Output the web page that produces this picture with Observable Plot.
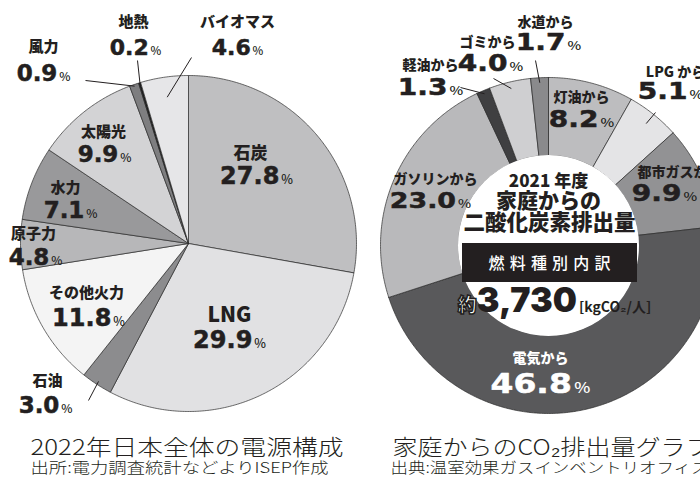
<!DOCTYPE html>
<html><head><meta charset="utf-8">
<script src="https://cdn.jsdelivr.net/npm/d3@7"></script>
<script src="https://cdn.jsdelivr.net/npm/@observablehq/plot@0.6"></script>
<style>
html,body{margin:0;padding:0;background:#fff;overflow:hidden}
svg{display:block}
</style>
</head><body><div id="chart"></div>
<script>
// ---------- DATA ----------
const powerSources = ["石炭","LNG","石油","その他火力","原子力","水力","太陽光","風力","地熱","バイオマス"];
const powerShares  = [27.8, 29.9, 3.0, 11.8, 4.8, 7.1, 9.9, 0.9, 0.2, 4.6];
const homeSources  = ["灯油から","LPG から","都市ガスから","電気から","ガソリンから","軽油から","ゴミから","水道から"];
const homeShares   = [8.2, 5.1, 9.9, 46.8, 23.0, 1.3, 4.0, 1.7];
const homeTotal    = 3730;
const homeUnit     = "[kgCO₂/人]";
const homeCenterLines = ["2021 年度","家庭からの","二酸化炭素排出量","燃料種別内訳"];
const titles    = ["2022年日本全体の電源構成","家庭からのCO₂排出量グラフ"];
const subtitles = ["出所:電力調査統計などよりISEP作成","出典:温室効果ガスインベントリオフィス"];

// ---------- STYLE ----------
const powerColors = ["#bfbfc1","#e1e1e3","#8c8c8e","#f4f4f4","#b7b7b9","#99999b","#d3d3d5","#7e7e80","#1e1e1e","#e6e6e8"];
const homeColors  = ["#bdbdbf","#e4e4e6","#929294","#59595b","#b9b9bb","#3f3f41","#cfcfd1","#8a8a8c"];
const ink = "#231f20";
const JP = "'Noto Sans CJK JP','Noto Sans CJK SC',sans-serif";
const NUM = "'DejaVu Sans','Noto Sans CJK JP',sans-serif";
const BIG = "Inter,'Noto Sans CJK JP',sans-serif";

// ---------- LAYOUT ----------
const W = 700, H = 483;
const leftPie  = {cx:188, cy:243, r0:0,  r1:168, stretch:1.0};
const rightPie = {cx:548, cy:245, r0:90, r1:168, stretch:1.22};
// label offsets from pie centre: [catDx, catDy, numDx, numDy, catSize, numSize]
const powerLabelLayout = [
  [62,-90, 68,-67, 17,24],
  [41,72, 41,97, 21,24],
  [-141,138, -143,162, 15,23],
  [-102,50, -100,75, 15,24],
  [-155,-9, -153,14, 15,23],
  [-123,-55, -118,-33, 15,23],
  [-85,-111, -84,-89, 15,23],
  [-145,-196, -145,-170, 15,23],
  [-55,-221, -53,-196, 15,22],
  [49,-221, 49,-196, 15,22]
];
const homeLabelLayout = [
  [33,-148, 33,-126, 14,23],
  [127,-173, 122,-154, 14,23],
  [131,-73, 116,-52, 14,23],
  [-8,113, -8,139, 14,27],
  [-113,-66, -118,-45, 14,22],
  [-118,-180, -118,-158, 14,23],
  [-61,-203, -58,-182, 14,23],
  [-3,-223, 0,-203, 14,23]
];
// leaders: [slice index, inner radius fraction, outer dx, outer dy]
const powerLeaders = [[7,0.99,-103,-163],[8,0.99,-51,-183],[9,0.88,3,-186],[2,0.98,-100,157]];
const homeLeaders  = [[7,0.97,-13,-185],[6,0.96,-55,-167],[5,0.98,-88,-158],[1,0.93,107,-133]];

// ---------- GEOMETRY ----------
const polar = (g, t, r) => [g.cx + r*Math.sin(t), g.cy - r*Math.cos(t)];
function buildSlices(shares, colors, g, key) {
  const arcs = d3.pie().sort(null).value(d => d)(shares);
  const pts = [];
  arcs.forEach((a, i) => {
    const n = Math.max(2, Math.ceil((a.endAngle - a.startAngle) / 0.01));
    const ts = d3.range(n + 1).map(k => a.startAngle + (a.endAngle - a.startAngle) * k / n);
    let ring;
    if (g.r0 === 0) ring = [[g.cx, g.cy], ...ts.map(t => polar(g, t, g.r1)), [g.cx, g.cy]];
    else ring = [...ts.map(t => polar(g, t, g.r1)), ...ts.slice().reverse().map(t => polar(g, t, g.r0)), polar(g, ts[0], g.r1)];
    ring.forEach(([x, y]) => pts.push({id: key + i, x, y, color: colors[i]}));
  });
  return {arcs, pts};
}
const L = buildSlices(powerShares, powerColors, leftPie, "p");
const R = buildSlices(homeShares, homeColors, rightPie, "h");

function labels(names, shares, layout, g, fills) {
  return names.map((name, i) => {
    const [cdx, cdy, ndx, ndy, cs, ns] = layout[i];
    return {name, value: shares[i].toFixed(1) + "%", cx: g.cx + cdx, cy: g.cy + cdy,
            nx: g.cx + ndx, ny: g.cy + ndy, cs, ns, fill: fills ? fills[i] : ink};
  });
}
const powerLabels = labels(powerSources, powerShares, powerLabelLayout, leftPie);
const homeLabels = labels(homeSources, homeShares, homeLabelLayout, rightPie,
  homeSources.map((d, i) => i === 3 ? "#ffffff" : ink));

function leaders(list, arcs, g) {
  return list.map(([i, f, dx, dy]) => {
    const a = arcs[i], mid = (a.startAngle + a.endAngle) / 2;
    const [x1, y1] = polar(g, mid, g.r1 * f);
    return {x1, y1, x2: g.cx + dx, y2: g.cy + dy};
  });
}
const allLeaders = [...leaders(powerLeaders, L.arcs, leftPie), ...leaders(homeLeaders, R.arcs, rightPie)];
const allLabels = [...powerLabels, ...homeLabels];

const rc = rightPie;
const centerText = [
  {t: homeCenterLines[0], x: rc.cx, y: rc.cy-64, s: 17},
  {t: homeCenterLines[1], x: rc.cx, y: rc.cy-44, s: 21},
  {t: homeCenterLines[2], x: rc.cx+1, y: rc.cy-22, s: 21.5}
];
const totalLine = [{t: "約" + d3.format(",")(homeTotal) + homeUnit, x: rc.cx+12, y: rc.cy+56}];
const titleRows = [
  {t: titles[0], x: 30, y: 447, s: 22}, {t: titles[1], x: 392, y: 447, s: 22}
];
const subRows = [
  {t: subtitles[0], x: 30, y: 468, s: 15}, {t: subtitles[1], x: 390, y: 468, s: 15}
];

const plot = Plot.plot({
  width: W, height: H, margin: 0,
  x: {domain: [0, W], range: [0, W], axis: null},
  y: {domain: [0, H], range: [0, H], axis: null},
  color: {type: "identity"},
  style: {background: "#fff", color: ink, overflow: "visible"},
  marks: [
    Plot.line(L.pts, {x: "x", y: "y", z: "id", fill: "color", stroke: "#2b2b2b", strokeWidth: 0.7, curve: "linear"}),
    Plot.line(R.pts, {x: "x", y: "y", z: "id", fill: "color", stroke: "#2b2b2b", strokeWidth: 0.7, curve: "linear"}),
    Plot.dot([rc], {x: "cx", y: "cy", r: rc.r0 + 0.5, fill: "#fff", stroke: "none"}),
    Plot.rect([rc], {x1: d => d.cx - 86, x2: d => d.cx + 89, y1: d => d.cy - 2, y2: d => d.cy + 37, fill: ink}),
    Plot.text([homeCenterLines[3]], {x: rc.cx + 1, y: rc.cy + 18, text: d => d, fill: "#fff", fontSize: 16, fontWeight: 500, fontFamily: JP, lineAnchor: "middle"}),
    Plot.link(allLeaders, {x1: "x1", y1: "y1", x2: "x2", y2: "y2", stroke: ink, strokeWidth: 1}),
    Plot.text(allLabels, {x: "cx", y: "cy", text: "name", fontSize: "cs", fill: "fill", fontWeight: 900, fontFamily: JP, lineAnchor: "middle"}),
    Plot.text(powerLabels, {x: "nx", y: "ny", text: "value", fontSize: "ns", fill: "fill", stroke: "fill", strokeWidth: 0.5, fontWeight: 700, fontFamily: NUM, lineAnchor: "middle"}),
    Plot.text(homeLabels, {x: "nx", y: "ny", text: "value", fontSize: "ns", fill: "fill", stroke: "fill", strokeWidth: 0.5, fontWeight: 700, fontFamily: NUM, lineAnchor: "middle", title: () => "stretch"}),
    Plot.text(centerText, {x: "x", y: "y", text: "t", fontSize: "s", fill: ink, fontWeight: 900, fontFamily: JP, lineAnchor: "middle"}),
    Plot.text(totalLine, {x: "x", y: "y", text: "t", fontSize: 34, fill: ink, fontWeight: 900, fontFamily: BIG, lineAnchor: "middle"}),
    Plot.text(titleRows, {x: "x", y: "y", text: "t", fontSize: "s", fill: ink, fontWeight: 300, fontFamily: JP, textAnchor: "start", lineAnchor: "middle"}),
    Plot.text(subRows, {x: "x", y: "y", text: "t", fontSize: "s", fill: ink, fontWeight: 300, fontFamily: JP, textAnchor: "start", lineAnchor: "middle"})
  ]
});
document.getElementById("chart").appendChild(plot);

// ---------- typographic touches ----------
function scaleX(node, s) {
  const tr = node.getAttribute("transform");
  if (tr) node.setAttribute("transform", tr + ` scale(${s},1)`);
  else {
    const x = +node.getAttribute("x") || 0, y = +node.getAttribute("y") || 0;
    node.setAttribute("x", 0); node.setAttribute("y", 0);
    node.setAttribute("transform", `translate(${x},${y}) scale(${s},1)`);
  }
}
const svg = d3.select(plot);
svg.selectAll("text").each(function() {
  const el = d3.select(this);
  const titleEl = this.querySelector("title");
  const stretch = titleEl ? rightPie.stretch : leftPie.stretch;
  if (titleEl) titleEl.remove();
  const t = this.textContent;
  let m = /^([\d.,]+)%$/.exec(t);
  if (m) {
    el.text(null);
    el.append("tspan").text(m[1]);
    el.append("tspan").attr("font-size", "0.52em").attr("font-weight", 500).attr("stroke", "none")
      .attr("font-family", JP).attr("dx", "0.15em").text("%");
    if (stretch !== 1) scaleX(this, stretch);
    return;
  }
  if (t === homeCenterLines[3]) {
    el.attr("letter-spacing", "5.2px").attr("dx", 2.6);
    return;
  }
  m = /^約([\d,]+)(\[.*\])$/.exec(t);
  if (m) {
    el.text(null);
    el.append("tspan").attr("font-size", "19").attr("font-weight", 900).attr("font-family", JP)
      .attr("fill", "#fff").attr("stroke", ink).attr("stroke-width", 1.5)
      .attr("dx", "-6").text("約");
    el.append("tspan").text(m[1]);
    el.append("tspan").attr("font-size", "14").attr("font-weight", 700).attr("font-family", JP).attr("dx", "2").text(m[2]);
  }
});
// horizontally stretched title glyphs, as in the reference
const targets = {[titles[0]]: 313, [subtitles[0]]: 298, [titles[1]]: 318, [subtitles[1]]: 318};
svg.selectAll("text").each(function() {
  const w = targets[this.textContent];
  if (w) {
    this.setAttribute("textLength", w);
    this.setAttribute("lengthAdjust", "spacingAndGlyphs");
  }
});
</script>
</body></html>
